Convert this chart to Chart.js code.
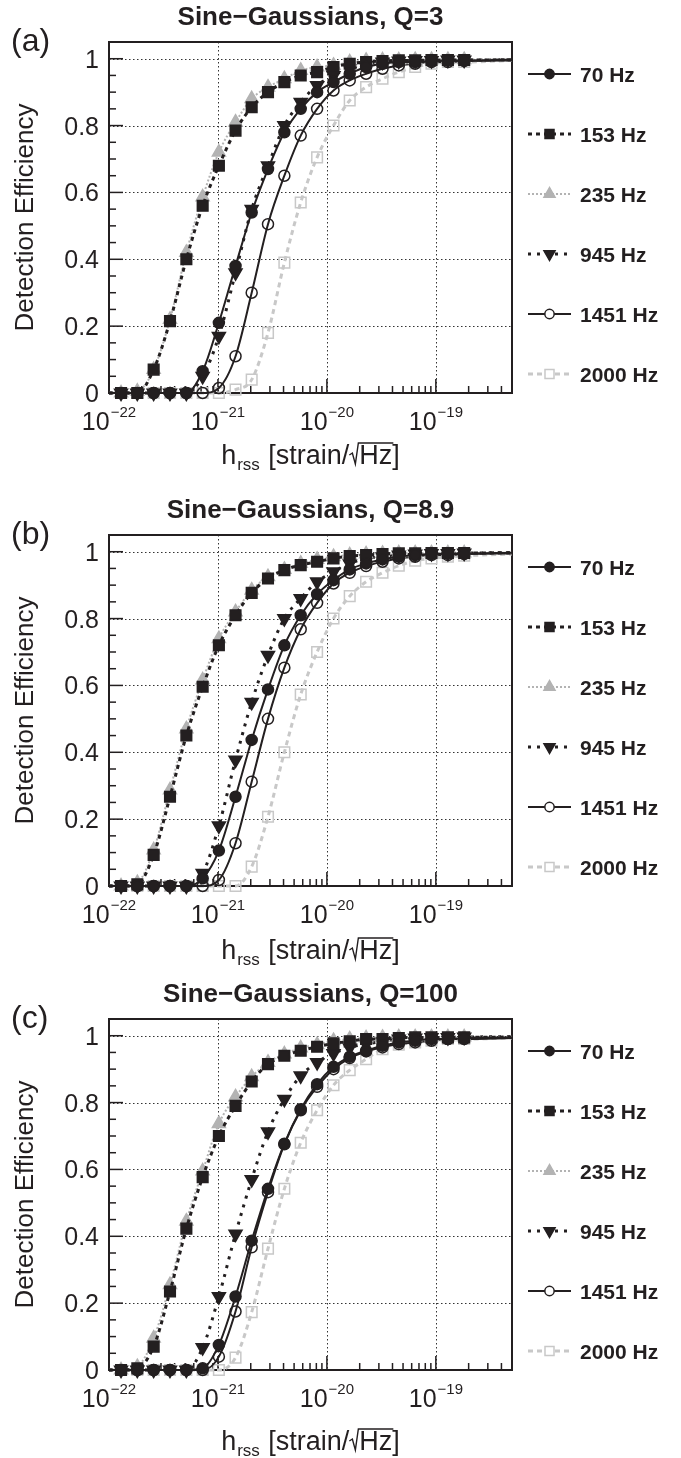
<!DOCTYPE html>
<html>
<head>
<meta charset="utf-8">
<script src="https://cdn.jsdelivr.net/npm/chart.js@4.4.1/dist/chart.umd.min.js"></script>
<style>
    html, body { margin: 0; padding: 0; background: #fff; overflow: hidden; }
    canvas { display: block; }
</style>
</head>
<body>
<canvas id="panelA" width="681" height="493"></canvas>
<canvas id="panelB" width="681" height="484"></canvas>
<canvas id="panelC" width="681" height="481"></canvas>
<script>
// x positions of the injections (first and last entries are the fit ends at the plot edges)
const hrss = [1e-22, 1.29e-22, 1.82e-22, 2.57e-22, 3.63e-22, 5.13e-22, 7.24e-22, 1.02e-21, 1.45e-21,
    2.04e-21, 2.88e-21, 4.07e-21, 5.75e-21, 8.13e-21, 1.15e-20, 1.62e-20, 2.29e-20, 3.24e-20,
    4.57e-20, 6.46e-20, 9.12e-20, 1.29e-19, 1.82e-19, 5e-19];

const freqs = ['70 Hz', '153 Hz', '235 Hz', '945 Hz', '1451 Hz', '2000 Hz'];
const titles = ['Sine\u2212Gaussians, Q=3', 'Sine\u2212Gaussians, Q=8.9', 'Sine\u2212Gaussians, Q=100'];
const tags = ['(a)', '(b)', '(c)'];
const yTicks = [0, 0.2, 0.4, 0.6, 0.8, 1];
const yTickLabels = ['0', '0.2', '0.4', '0.6', '0.8', '1'];
const xDecades = [-22, -21, -20, -19];

// Q = 3
const q3_70   = [0, 0, 0, 0, 0, 0, 0.065, 0.21, 0.38, 0.54, 0.67, 0.78, 0.85, 0.90, 0.93, 0.955, 0.975, 0.985, 0.99, 0.99, 0.993, 0.995, 0.995, 0.997];
const q3_153  = [0, 0, 0, 0.07, 0.215, 0.40, 0.56, 0.68, 0.785, 0.855, 0.90, 0.93, 0.95, 0.96, 0.975, 0.985, 0.99, 0.993, 0.995, 0.995, 0.996, 0.996, 0.996, 0.997];
const q3_235  = [0, 0, 0.005, 0.07, 0.22, 0.42, 0.586, 0.72, 0.81, 0.88, 0.915, 0.94, 0.965, 0.975, 0.98, 0.99, 0.995, 0.996, 0.996, 0.997, 0.997, 0.997, 0.997, 0.998];
const q3_945  = [0, 0, 0, 0, 0, 0, 0.05, 0.17, 0.36, 0.55, 0.68, 0.80, 0.87, 0.92, 0.95, 0.97, 0.98, 0.99, 0.993, 0.995, 0.995, 0.996, 0.996, 0.997];
const q3_1451 = [0, 0, 0, 0, 0, 0, 0, 0.015, 0.11, 0.30, 0.505, 0.65, 0.77, 0.85, 0.905, 0.935, 0.955, 0.97, 0.98, 0.985, 0.99, 0.99, 0.993, 0.995];
const q3_2000 = [0, 0, 0, 0, 0, 0, 0, 0, 0.01, 0.04, 0.18, 0.39, 0.57, 0.705, 0.80, 0.875, 0.915, 0.94, 0.96, 0.975, 0.985, 0.99, 0.99, 0.995];

// Q = 8.9
const q9_70   = [0, 0, 0, 0, 0, 0, 0.023, 0.106, 0.267, 0.437, 0.588, 0.72, 0.81, 0.873, 0.915, 0.947, 0.965, 0.977, 0.985, 0.99, 0.993, 0.995, 0.995, 0.997];
const q9_153  = [0, 0, 0.005, 0.093, 0.267, 0.45, 0.596, 0.72, 0.81, 0.877, 0.92, 0.945, 0.96, 0.97, 0.98, 0.987, 0.99, 0.993, 0.995, 0.995, 0.996, 0.996, 0.996, 0.997];
const q9_235  = [0, 0, 0.01, 0.108, 0.287, 0.47, 0.616, 0.74, 0.82, 0.885, 0.925, 0.947, 0.965, 0.977, 0.985, 0.99, 0.993, 0.995, 0.996, 0.996, 0.996, 0.996, 0.996, 0.997];
const q9_945  = [0, 0, 0, 0, 0, 0, 0.038, 0.18, 0.377, 0.55, 0.69, 0.80, 0.86, 0.91, 0.94, 0.965, 0.98, 0.985, 0.99, 0.993, 0.995, 0.995, 0.996, 0.997];
const q9_1451 = [0, 0, 0, 0, 0, 0, 0, 0.018, 0.128, 0.312, 0.50, 0.653, 0.768, 0.847, 0.905, 0.937, 0.957, 0.97, 0.98, 0.985, 0.99, 0.99, 0.993, 0.995];
const q9_2000 = [0, 0, 0, 0, 0, 0, 0, 0, 0, 0.058, 0.207, 0.40, 0.573, 0.70, 0.80, 0.867, 0.91, 0.937, 0.958, 0.973, 0.98, 0.985, 0.988, 0.993];

// Q = 100
const q100_70   = [0, 0, 0, 0, 0, 0, 0.005, 0.075, 0.22, 0.387, 0.542, 0.677, 0.78, 0.855, 0.907, 0.937, 0.955, 0.97, 0.98, 0.985, 0.99, 0.99, 0.993, 0.995];
const q100_153  = [0, 0, 0.005, 0.07, 0.235, 0.423, 0.577, 0.70, 0.79, 0.863, 0.915, 0.94, 0.955, 0.967, 0.977, 0.983, 0.99, 0.99, 0.993, 0.995, 0.995, 0.995, 0.995, 0.996];
const q100_235  = [0, 0, 0.01, 0.095, 0.255, 0.445, 0.595, 0.737, 0.817, 0.877, 0.92, 0.945, 0.963, 0.973, 0.985, 0.99, 0.993, 0.995, 0.996, 0.996, 0.996, 0.996, 0.996, 0.997];
const q100_945  = [0, 0, 0, 0, 0, 0, 0.067, 0.22, 0.407, 0.57, 0.713, 0.81, 0.88, 0.92, 0.947, 0.965, 0.975, 0.983, 0.99, 0.993, 0.995, 0.995, 0.996, 0.997];
const q100_1451 = [0, 0, 0, 0, 0, 0, 0, 0.04, 0.175, 0.367, 0.532, 0.675, 0.777, 0.847, 0.90, 0.933, 0.953, 0.965, 0.975, 0.98, 0.985, 0.99, 0.99, 0.993];
const q100_2000 = [0, 0, 0, 0, 0, 0, 0, 0, 0.037, 0.173, 0.363, 0.542, 0.68, 0.777, 0.852, 0.897, 0.93, 0.96, 0.973, 0.98, 0.985, 0.99, 0.99, 0.993];

const BLACK = '#231f20';
const GREY = '#b3b3b3';
const LIGHT = '#c8c8c8';
const FONT = '"Liberation Sans", Arial, Helvetica, sans-serif';

// one style per frequency, same order as freqs
const seriesStyles = [
    { color: BLACK, dash: [], width: 2, point: 'circle', rot: 0, filled: true, r: 5.5 },
    { color: BLACK, dash: [4, 4], width: 3, point: 'rect', rot: 0, filled: true, r: 7.5 },
    { color: GREY, dash: [2, 2], width: 2, point: 'triangle', rot: 0, filled: true, r: 7.5 },
    { color: BLACK, dash: [3, 6], width: 3, point: 'triangle', rot: 180, filled: true, r: 7.5 },
    { color: BLACK, dash: [], width: 2, point: 'circle', rot: 0, filled: false, r: 5.5 },
    { color: LIGHT, dash: [5, 4], width: 3, point: 'rect', rot: 0, filled: false, r: 7.5 }
];

function drawMarker(ctx, st, x, y, r) {
    ctx.save();
    ctx.setLineDash([]);
    ctx.lineWidth = 1.5;
    ctx.strokeStyle = st.color;
    ctx.fillStyle = st.filled ? st.color : '#ffffff';
    ctx.beginPath();
    if (st.point === 'circle') {
        ctx.arc(x, y, r, 0, Math.PI * 2);
    } else if (st.point === 'rect') {
        const s = r * Math.SQRT1_2;
        ctx.rect(x - s, y - s, 2 * s, 2 * s);
    } else {
        const dir = st.rot ? -1 : 1;
        const h = r * 1.5;
        ctx.moveTo(x, y - dir * r);
        ctx.lineTo(x - r * 0.866, y - dir * (r - h));
        ctx.lineTo(x + r * 0.866, y - dir * (r - h));
        ctx.closePath();
    }
    ctx.fill();
    ctx.stroke();
    ctx.restore();
}

function seg(ctx, x1, y1, x2, y2) {
    ctx.beginPath();
    ctx.moveTo(x1, y1);
    ctx.lineTo(x2, y2);
    ctx.stroke();
}

function panelPlugin(title, tag, xTitleBase) {
    return {
        id: 'rootFrame',
        beforeDatasetsDraw(chart) {
            const { ctx, chartArea: a, scales: { x, y } } = chart;
            ctx.save();
            // dotted grid
            ctx.strokeStyle = '#333';
            ctx.lineWidth = 1;
            ctx.setLineDash([1.5, 2.5]);
            yTicks.forEach(v => {
                if (v === 0) return;
                const py = Math.round(y.getPixelForValue(v)) + 0.5;
                seg(ctx, a.left, py, a.right, py);
            });
            xDecades.forEach(d => {
                if (d === -22) return;
                const px = Math.round(x.getPixelForValue(Math.pow(10, d))) + 0.5;
                seg(ctx, px, a.top, px, a.bottom);
            });
            ctx.setLineDash([]);

            // tick marks
            ctx.strokeStyle = BLACK;
            ctx.lineWidth = 1.5;
            for (let i = 0; i <= 21; i++) {
                const v = i * 0.05;
                const py = y.getPixelForValue(v);
                const len = (i % 4 === 0) ? 14 : 7;
                seg(ctx, a.left, py, a.left + len, py);
            }
            xDecades.forEach(d => {
                for (let m = 1; m <= 9; m++) {
                    const v = m * Math.pow(10, d);
                    if (v > x.max * 1.0001) break;
                    const px = x.getPixelForValue(v);
                    seg(ctx, px, a.bottom, px, a.bottom - (m === 1 ? 14 : 7));
                }
            });

            // frame
            ctx.lineWidth = 2;
            ctx.strokeRect(a.left, a.top, a.right - a.left, a.bottom - a.top);
            ctx.restore();
        },
        afterDatasetsDraw(chart) {
            const { ctx, chartArea: a, scales: { x, y } } = chart;
            ctx.save();
            ctx.fillStyle = BLACK;

            // y tick labels
            ctx.font = '25px ' + FONT;
            ctx.textAlign = 'right';
            ctx.textBaseline = 'alphabetic';
            yTicks.forEach((v, i) => {
                ctx.fillText(yTickLabels[i], a.left - 10, y.getPixelForValue(v) + 9);
            });

            // x tick labels 10^n
            ctx.textAlign = 'left';
            xDecades.forEach(d => {
                const px = x.getPixelForValue(Math.pow(10, d));
                ctx.font = '25px ' + FONT;
                const w1 = ctx.measureText('10').width;
                ctx.font = '15px ' + FONT;
                const sup = '\u2212' + String(-d);
                const w2 = ctx.measureText(sup).width;
                const x0 = px - (w1 + w2 + 1) / 2;
                ctx.font = '25px ' + FONT;
                ctx.fillText('10', x0, a.bottom + 37);
                ctx.font = '15px ' + FONT;
                ctx.fillText(sup, x0 + w1 + 1, a.bottom + 24);
            });

            // y axis title
            ctx.save();
            ctx.translate(33, (a.top + a.bottom) / 2);
            ctx.rotate(-Math.PI / 2);
            ctx.textAlign = 'center';
            ctx.font = '26px ' + FONT;
            ctx.fillText('Detection Efficiency', 0, 0);
            ctx.restore();

            // x axis title: h_rss [strain/sqrt(Hz)]
            ctx.font = '27px ' + FONT;
            const wh = ctx.measureText('h').width;
            ctx.font = '17px ' + FONT;
            const wsub = ctx.measureText('rss').width;
            ctx.font = '27px ' + FONT;
            const wmid = ctx.measureText(' [strain/').width;
            const wrad = 10;
            const whz = ctx.measureText('Hz').width;
            const wbr = ctx.measureText(']').width;
            const total = wh + wsub + 2 + wmid + wrad + whz + wbr;
            let cx = (a.left + a.right) / 2 - total / 2;
            const by = xTitleBase;
            ctx.textAlign = 'left';
            ctx.fillText('h', cx, by); cx += wh + 1;
            ctx.font = '17px ' + FONT;
            ctx.fillText('rss', cx, by + 6); cx += wsub + 1;
            ctx.font = '27px ' + FONT;
            ctx.fillText(' [strain/', cx, by); cx += wmid;
            ctx.strokeStyle = BLACK;
            ctx.lineWidth = 1.4;
            ctx.beginPath();
            ctx.moveTo(cx, by - 9);
            ctx.lineTo(cx + 3, by - 11);
            ctx.lineTo(cx + 6, by);
            ctx.lineTo(cx + 9, by - 21);
            ctx.lineTo(cx + wrad + whz + 1, by - 21);
            ctx.stroke();
            cx += wrad;
            ctx.fillText('Hz', cx, by); cx += whz;
            ctx.fillText(']', cx, by);

            // title and panel tag
            ctx.font = 'bold 26px ' + FONT;
            ctx.textAlign = 'center';
            ctx.fillText(title, (a.left + a.right) / 2, 25);
            ctx.font = '32px ' + FONT;
            ctx.textAlign = 'left';
            ctx.fillText(tag, 11, 51);

            // legend
            ctx.font = 'bold 21px ' + FONT;
            seriesStyles.forEach((st, i) => {
                const ly = 74 + 60 * i;
                ctx.save();
                ctx.strokeStyle = st.color;
                ctx.lineWidth = st.width;
                ctx.setLineDash(st.dash);
                seg(ctx, 528, ly, 571, ly);
                ctx.restore();
                drawMarker(ctx, st, 549.5, ly, st.r * 0.85);
                ctx.fillStyle = BLACK;
                ctx.fillText(freqs[i], 580, ly + 7.5);
            });
            ctx.restore();
        }
    };
}

function makePanel(canvasId, title, tag, series, xTitleBase) {
    const el = document.getElementById(canvasId);
    const last = hrss.length - 1;
    return new Chart(el.getContext('2d'), {
        type: 'line',
        data: {
            datasets: series.map((vals, i) => {
                const st = seriesStyles[i];
                return {
                    label: freqs[i],
                    data: hrss.map((h, k) => ({ x: h, y: vals[k] })),
                    borderColor: st.color,
                    borderWidth: st.width,
                    borderDash: st.dash,
                    pointStyle: st.point,
                    pointRotation: st.rot,
                    pointRadius: ctx => (ctx.dataIndex === 0 || ctx.dataIndex === last) ? 0 : st.r,
                    pointBackgroundColor: st.filled ? st.color : 'rgba(255,255,255,0)',
                    pointBorderColor: st.color,
                    pointBorderWidth: 1.5,
                    cubicInterpolationMode: 'monotone',
                    fill: false,
                    clip: false
                };
            })
        },
        options: {
            responsive: false,
            animation: false,
            events: [],
            layout: {
                padding: { left: 109, right: 169, top: 42, bottom: el.height - 393 }
            },
            plugins: {
                legend: { display: false },
                tooltip: { enabled: false },
                title: { display: false }
            },
            scales: {
                x: { type: 'logarithmic', min: 1e-22, max: 5e-19, display: false },
                y: { type: 'linear', min: 0, max: 1.05, display: false }
            }
        },
        plugins: [panelPlugin(title, tag, xTitleBase)]
    });
}

makePanel('panelA', titles[0], tags[0], [q3_70, q3_153, q3_235, q3_945, q3_1451, q3_2000], 464);
makePanel('panelB', titles[1], tags[1], [q9_70, q9_153, q9_235, q9_945, q9_1451, q9_2000], 466);
makePanel('panelC', titles[2], tags[2], [q100_70, q100_153, q100_235, q100_945, q100_1451, q100_2000], 473);
</script>
</body>
</html>
